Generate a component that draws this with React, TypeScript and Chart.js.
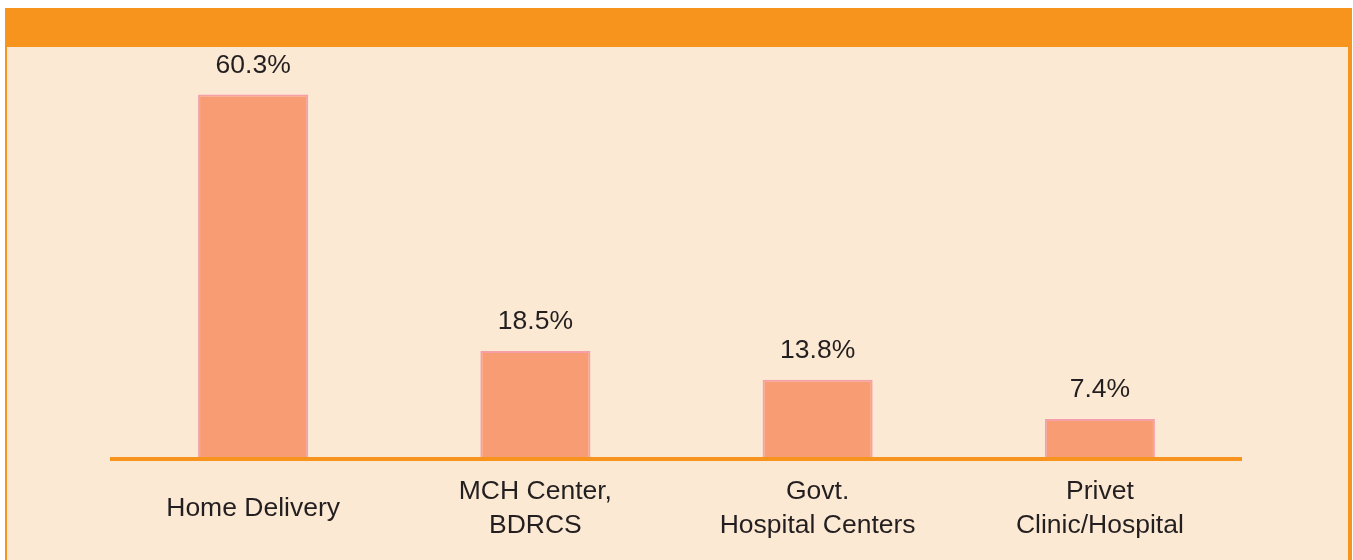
import { useEffect, useRef } from "react";
import { Chart, registerables } from "chart.js";

Chart.register(...registerables);

const categories: (string | string[])[] = [
  "Home Delivery",
  ["MCH Center,", "BDRCS"],
  ["Govt.", "Hospital Centers"],
  ["Privet", "Clinic/Hospital"],
];
const shares = [60.3, 18.5, 13.8, 7.4];
const valueLabels = ["60.3%", "18.5%", "13.8%", "7.4%"];

const ORANGE = "#F7941E";
const PEACH = "#FCE9D3";
const BAR = "#F89C73";
const BAR_EDGE = "#F5A0A8";
const TEXT = "#231F20";
const FONT = "'Liberation Sans', Arial, Helvetica, sans-serif";

const framePlugin = {
  id: "frame",
  beforeDraw(chart: any) {
    const { ctx, width, height } = chart;
    ctx.save();
    ctx.fillStyle = "#ffffff";
    ctx.fillRect(0, 0, width, height);
    ctx.fillStyle = ORANGE;
    ctx.fillRect(5, 8, 1347, height - 8);
    ctx.fillStyle = PEACH;
    ctx.fillRect(7, 47, 1341, height - 47);
    ctx.restore();
  },
};

const valueLabelPlugin = {
  id: "valueLabels",
  afterDatasetsDraw(chart: any) {
    const { ctx } = chart;
    const meta = chart.getDatasetMeta(0);
    ctx.save();
    ctx.fillStyle = TEXT;
    ctx.font = `26.5px ${FONT}`;
    ctx.textAlign = "center";
    ctx.textBaseline = "middle";
    meta.data.forEach((el: any, i: number) => {
      ctx.fillText(valueLabels[i], el.x, el.y - 29);
    });
    ctx.restore();
  },
};

export default function App() {
  const ref = useRef<HTMLCanvasElement | null>(null);

  useEffect(() => {
    document.body.style.margin = "0";
    if (!ref.current) return;
    const chart = new Chart(ref.current, {
      type: "bar",
      data: {
        labels: categories,
        datasets: [
          {
            data: shares,
            backgroundColor: BAR,
            borderColor: BAR_EDGE,
            borderWidth: 2,
            borderSkipped: "start",
            barPercentage: 0.39,
            categoryPercentage: 1,
          },
        ],
      },
      options: {
        responsive: false,
        animation: false,
        layout: { padding: { top: 60, left: 112, right: 112, bottom: 0 } },
        plugins: {
          legend: { display: false },
          tooltip: { enabled: false },
        },
        scales: {
          x: {
            grid: { display: false, drawTicks: false },
            border: { display: true, color: ORANGE, width: 4, z: 1 },
            ticks: {
              padding: 33,
              crossAlign: "center",
              color: TEXT,
              maxRotation: 0,
              autoSkip: false,
              font: { family: FONT, size: 26.5, lineHeight: 1.265 },
            },
            afterFit: (scale: any) => {
              scale.height = 101;
            },
          },
          y: { display: false, min: 0.9, max: 65.9 },
        },
      },
      plugins: [framePlugin, valueLabelPlugin],
    });
    return () => chart.destroy();
  }, []);

  return (
    <div style={{ position: "absolute", left: 0, top: 0, width: 1353, height: 560 }}>
      <canvas ref={ref} width={1353} height={560} style={{ display: "block" }} />
    </div>
  );
}
